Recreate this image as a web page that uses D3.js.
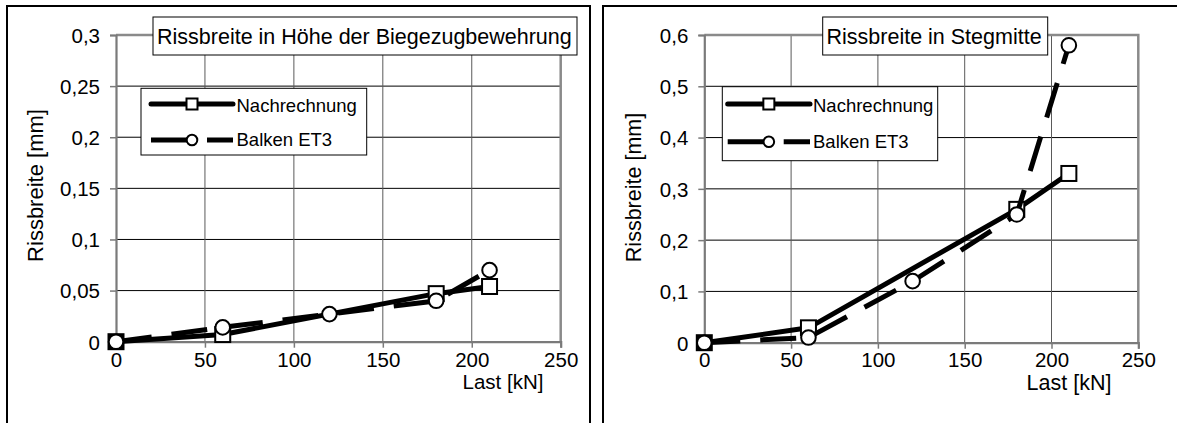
<!DOCTYPE html>
<html>
<head>
<meta charset="utf-8">
<script src="https://cdn.jsdelivr.net/npm/d3@7"></script>
<style>
  html, body { margin: 0; padding: 0; background: #fff; }
  svg { display: block; font-family: "Liberation Sans", Arial, sans-serif; }
</style>
</head>
<body>
<svg id="chart" width="1177" height="423"></svg>
<script>
// ---------------- data ----------------
const seriesNames = ["Nachrechnung", "Balken ET3"];
const loadNach = [0, 60, 180, 210];
const loadBalken = [0, 60, 120, 180, 210];

const leftTitle = "Rissbreite in Höhe der Biegezugbewehrung";
const leftNach = [0, 0.007, 0.047, 0.054];
const leftBalken = [0, 0.014, 0.027, 0.040, 0.070];
const leftYTicks = [0, 0.05, 0.1, 0.15, 0.2, 0.25, 0.3];

const rightTitle = "Rissbreite in Stegmitte";
const rightNach = [0, 0.029, 0.26, 0.33];
const rightBalken = [0, 0.01, 0.12, 0.25, 0.58];
const rightYTicks = [0, 0.1, 0.2, 0.3, 0.4, 0.5, 0.6];

const xTicks = [0, 50, 100, 150, 200, 250];
const xLabel = "Last [kN]";
const yLabel = "Rissbreite [mm]";

// ---------------- layout ----------------
const panels = [
  {
    title: leftTitle, nach: leftNach, balken: leftBalken, yTicks: leftYTicks,
    frame: {x: 7, y: 6, w: 583, h: 440},
    plot: {x0: 116, x1: 560.7, y0: 341.7, y1: 35},
    titleBox: {x: 153, y: 17, w: 424, h: 38, tx: 157, ty: 43.5},
    legend: {x: 141, y: 88.3, w: 225.7, h: 66.7, lx0: 151, lx1: 233, tx: 236.5, r1: 104, r2: 140, b1: 111.7, b2: 146},
    xLab: {x: 503, y: 389, fs: 20.5},
    yLab: {x: 35, y: 185.5, fs: 22},
    ymax: 0.3
  },
  {
    title: rightTitle, nach: rightNach, balken: rightBalken, yTicks: rightYTicks,
    frame: {x: 603, y: 6, w: 600, h: 440},
    plot: {x0: 704.3, x1: 1138.3, y0: 342.7, y1: 35},
    titleBox: {x: 822.7, y: 17, w: 225, h: 38, tx: 826.5, ty: 43.5},
    legend: {x: 722.3, y: 86.7, w: 215.4, h: 74, lx0: 727.7, lx1: 810, tx: 813, r1: 104, r2: 141.7, b1: 111.7, b2: 148.3},
    xLab: {x: 1069, y: 390, fs: 21.5},
    yLab: {x: 633, y: 187.5, fs: 21.5},
    ymax: 0.6
  }
];

const fmt = d3.formatLocale({decimal: ",", thousands: ".", grouping: [3], currency: ["", "€"]}).format("~g");
const svg = d3.select("#chart");
const DASH = "36,20";
const TICK_BASELINE = 367;

panels.forEach(p => {
  const g = svg.append("g");
  const x = d3.scaleLinear().domain([0, 250]).range([p.plot.x0, p.plot.x1]);
  const y = d3.scaleLinear().domain([0, p.ymax]).range([p.plot.y0, p.plot.y1]);

  // frame
  g.append("rect").attr("x", p.frame.x).attr("y", p.frame.y)
    .attr("width", p.frame.w).attr("height", p.frame.h)
    .attr("fill", "#fff").attr("stroke", "#000").attr("stroke-width", 2);

  // horizontal grid (black)
  g.selectAll(".hg").data(p.yTicks.filter(t => t > 0 && t < p.ymax)).enter().append("line")
    .attr("x1", x(0)).attr("x2", x(250)).attr("y1", d => y(d)).attr("y2", d => y(d))
    .attr("stroke", "#000").attr("stroke-width", 1);
  // vertical grid (gray)
  g.selectAll(".vg").data(xTicks.filter(t => t > 0 && t < 250)).enter().append("line")
    .attr("x1", d => x(d)).attr("x2", d => x(d)).attr("y1", y(0)).attr("y2", y(p.ymax))
    .attr("stroke", "#5a5a5a").attr("stroke-width", 1);
  // plot border top/right gray
  g.append("path")
    .attr("d", `M${x(0)},${y(p.ymax)}H${x(250)}V${y(0)}`)
    .attr("fill", "none").attr("stroke", "#8a8a8a").attr("stroke-width", 2.5);

  // axes
  const yAxis = d3.axisLeft(y).tickValues(p.yTicks).tickSize(6).tickPadding(10).tickFormat(fmt);
  const xAxis = d3.axisBottom(x).tickValues(xTicks).tickSize(6).tickPadding(18).tickFormat(fmt);
  const ya = g.append("g").attr("transform", `translate(${x(0)},0)`).call(yAxis);
  const xa = g.append("g").attr("transform", `translate(0,${y(0)})`).call(xAxis);
  [ya, xa].forEach(a => {
    a.select(".domain").attr("stroke", "#7a7a7a").attr("stroke-width", 2.2);
    a.selectAll(".tick line").attr("stroke", "#7a7a7a").attr("stroke-width", 1.5);
    a.selectAll("text").attr("fill", "#000").attr("font-size", 20.5)
      .attr("font-family", "Liberation Sans, Arial, sans-serif");
  });
  ya.selectAll("text").attr("dy", "0.36em");
  xa.selectAll("text").attr("dy", 0).attr("y", TICK_BASELINE - y(0));

  // series: Nachrechnung (solid, squares)
  const nachPts = loadNach.map((l, i) => ({x: l, y: p.nach[i], i}));
  const balkPts = loadBalken.map((l, i) => ({x: l, y: p.balken[i], i}));
  const line = d3.line().x(d => x(d.x)).y(d => y(d.y));

  g.append("path").datum(nachPts).attr("d", line)
    .attr("fill", "none").attr("stroke", "#000").attr("stroke-width", 5)
    .attr("stroke-linejoin", "round");
  const sq = 15;
  g.selectAll(".sq").data(nachPts).enter().append("rect")
    .attr("x", d => x(d.x) - sq / 2).attr("y", d => y(d.y) - sq / 2)
    .attr("width", sq).attr("height", sq)
    .attr("fill", d => d.i === 0 ? "#000" : "#fff")
    .attr("stroke", "#000").attr("stroke-width", 2);

  // series: Balken ET3 (dashed, circles)
  g.append("path").datum(balkPts).attr("d", line)
    .attr("fill", "none").attr("stroke", "#000").attr("stroke-width", 5)
    .attr("stroke-dasharray", DASH);
  g.selectAll(".ci").data(balkPts).enter().append("circle")
    .attr("cx", d => x(d.x)).attr("cy", d => y(d.y)).attr("r", 7.3)
    .attr("fill", "#fff").attr("stroke", "#000").attr("stroke-width", 2);

  // title box
  g.append("rect").attr("x", p.titleBox.x).attr("y", p.titleBox.y)
    .attr("width", p.titleBox.w).attr("height", p.titleBox.h)
    .attr("fill", "#fff").attr("stroke", "#000").attr("stroke-width", 1);
  g.append("text").attr("x", p.titleBox.tx).attr("y", p.titleBox.ty)
    .attr("font-size", 21.5).attr("fill", "#000").text(p.title);

  // legend
  const L = p.legend;
  g.append("rect").attr("x", L.x).attr("y", L.y).attr("width", L.w).attr("height", L.h)
    .attr("fill", "#fff").attr("stroke", "#000").attr("stroke-width", 1);
  const lm = (L.lx0 + L.lx1) / 2;
  g.append("line").attr("x1", L.lx0).attr("x2", L.lx1).attr("y1", L.r1).attr("y2", L.r1)
    .attr("stroke", "#000").attr("stroke-width", 5).attr("stroke-linecap", "round");
  g.append("rect").attr("x", lm - 5.5).attr("y", L.r1 - 5.5).attr("width", 11).attr("height", 11)
    .attr("fill", "#fff").attr("stroke", "#000").attr("stroke-width", 2);
  g.append("line").attr("x1", L.lx0).attr("x2", L.lx1).attr("y1", L.r2).attr("y2", L.r2)
    .attr("stroke", "#000").attr("stroke-width", 5).attr("stroke-dasharray", DASH);
  g.append("circle").attr("cx", lm).attr("cy", L.r2).attr("r", 5.3)
    .attr("fill", "#fff").attr("stroke", "#000").attr("stroke-width", 2);
  g.append("text").attr("x", L.tx).attr("y", L.b1).attr("font-size", 18.5).text(seriesNames[0]);
  g.append("text").attr("x", L.tx).attr("y", L.b2).attr("font-size", 18.5).text(seriesNames[1]);

  // axis titles
  g.append("text").attr("x", p.xLab.x).attr("y", p.xLab.y).attr("text-anchor", "middle")
    .attr("font-size", p.xLab.fs).text(xLabel);
  g.append("text").attr("transform", `translate(${p.yLab.x},${p.yLab.y}) rotate(-90)`)
    .attr("text-anchor", "middle").attr("dy", "0.35em")
    .attr("font-size", p.yLab.fs).text(yLabel);
});
</script>
</body>
</html>
